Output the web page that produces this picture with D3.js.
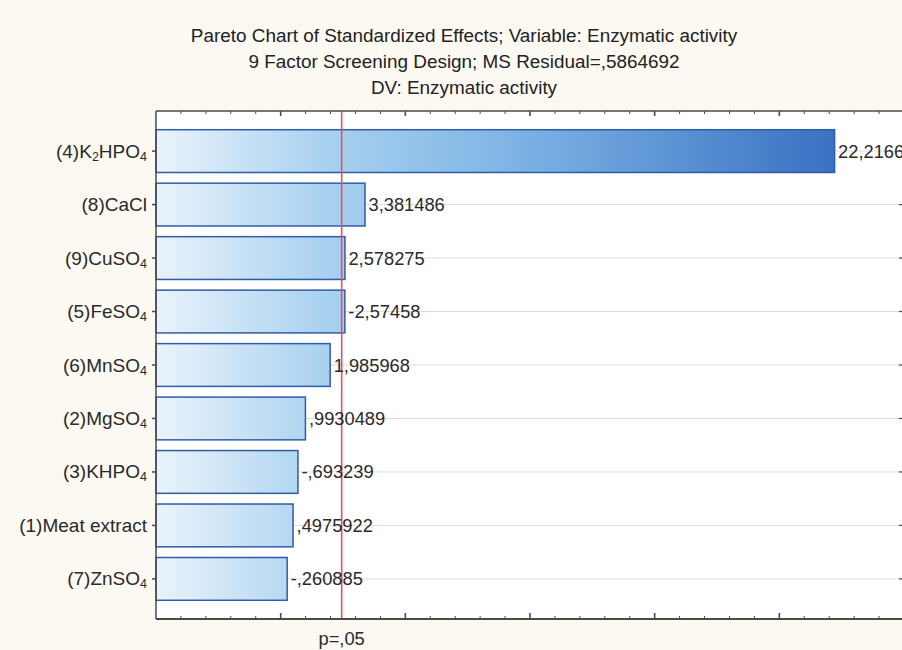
<!DOCTYPE html>
<html>
<head>
<meta charset="utf-8">
<script src="https://cdn.jsdelivr.net/npm/d3@7"></script>
<style>
  html, body { margin: 0; padding: 0; background: #fcf9f2; }
  svg { display: block; font-family: "Liberation Sans", Arial, sans-serif; }
</style>
</head>
<body>
<svg id="chart" width="902" height="650"></svg>
<script>
// ---- data -------------------------------------------------------------
const titleLines = [
  "Pareto Chart of Standardized Effects; Variable: Enzymatic activity",
  "9 Factor Screening Design; MS Residual=,5864692",
  "DV: Enzymatic activity"
];
const factors = [
  "(4)K2HPO4", "(8)CaCl", "(9)CuSO4", "(5)FeSO4", "(6)MnSO4",
  "(2)MgSO4", "(3)KHPO4", "(1)Meat extract", "(7)ZnSO4"
];
const effects = [
  22.21663, 3.381486, 2.578275, -2.57458, 1.985968,
  0.9930489, -0.693239, 0.4975922, -0.260885
];
const pCritical = 2.446912;     // two-sided t at p = .05, 6 df
const pLabel = "p=,05";
const xDomain = [-5, 25];
const minorStep = 1, majorStep = 5;

// ---- layout -----------------------------------------------------------
const plot = { left: 156, right: 904, top: 111, bottom: 619 };
const svg = d3.select("#chart");

const x = d3.scaleLinear().domain(xDomain).range([plot.left, plot.right]);
const y = d3.scaleBand().domain(factors).range([plot.top, plot.bottom])
  .paddingInner(0.2).paddingOuter(0.35);

// Statistica-style number text: comma decimal, no leading zero, 7 sig. digits
const fmt = v => {
  let s = String(parseFloat(Math.abs(v).toPrecision(7)));
  s = s.replace(/^0\./, ".").replace(".", ",");
  return (v < 0 ? "-" : "") + s;
};

// gradient across the value axis
const defs = svg.append("defs");
const grad = defs.append("linearGradient").attr("id", "barFill")
  .attr("gradientUnits", "userSpaceOnUse")
  .attr("x1", x(xDomain[0])).attr("x2", x(d3.max(effects, Math.abs)))
  .attr("y1", 0).attr("y2", 0);
[[0, "#eaf3fb"], [0.25, "#a9d1f0"], [0.55, "#7ab1e4"], [1, "#3a71c2"]]
  .forEach(([o, c]) => grad.append("stop").attr("offset", o).attr("stop-color", c));

// ---- title ------------------------------------------------------------
svg.append("g").selectAll("text").data(titleLines).join("text")
  .attr("x", 464).attr("y", (d, i) => 42 + i * 26)
  .attr("text-anchor", "middle").attr("font-size", 18.9).attr("fill", "#222")
  .text(d => d);

// ---- plot area ----------------------------------------------------------
svg.append("rect")
  .attr("x", plot.left).attr("y", plot.top)
  .attr("width", plot.right - plot.left).attr("height", plot.bottom - plot.top)
  .attr("fill", "#fff");

// horizontal grid at each factor
svg.append("g").selectAll("line").data(factors).join("line")
  .attr("x1", plot.left).attr("x2", plot.right)
  .attr("y1", d => y(d) + y.bandwidth() / 2).attr("y2", d => y(d) + y.bandwidth() / 2)
  .attr("stroke", "#dcdcdc").attr("stroke-width", 1);

// bars of absolute standardized effects
svg.append("g").selectAll("rect").data(effects).join("rect")
  .attr("x", x(xDomain[0]))
  .attr("y", (d, i) => y(factors[i]))
  .attr("width", d => x(Math.abs(d)) - x(xDomain[0]))
  .attr("height", y.bandwidth())
  .attr("fill", "url(#barFill)")
  .attr("stroke", "#2f5ca8").attr("stroke-width", 1.5);

// significance line
svg.append("line")
  .attr("x1", x(pCritical)).attr("x2", x(pCritical))
  .attr("y1", plot.top).attr("y2", plot.bottom)
  .attr("stroke", "#e4505e").attr("stroke-width", 1.6);

// value labels
svg.append("g").selectAll("text").data(effects).join("text")
  .attr("x", d => x(Math.abs(d)) + 3.5)
  .attr("y", (d, i) => y(factors[i]) + y.bandwidth() / 2 + 6.5)
  .attr("font-size", 18.3).attr("fill", "#2a2a2a")
  .text(d => fmt(d));

// ---- axes frame and ticks ---------------------------------------------------
const frame = svg.append("g").attr("stroke", "#4a4a4a").attr("fill", "none");
frame.append("line").attr("x1", plot.left).attr("x2", plot.right)
  .attr("y1", plot.top).attr("y2", plot.top).attr("stroke-width", 1.5);
frame.append("line").attr("x1", plot.left).attr("x2", plot.right)
  .attr("y1", plot.bottom).attr("y2", plot.bottom).attr("stroke-width", 2);
frame.append("line").attr("x1", plot.left).attr("x2", plot.left)
  .attr("y1", plot.top).attr("y2", plot.bottom).attr("stroke-width", 1.5);
frame.append("line").attr("x1", plot.right).attr("x2", plot.right)
  .attr("y1", plot.top).attr("y2", plot.bottom).attr("stroke-width", 1.5);

const tickVals = d3.range(xDomain[0] + minorStep, xDomain[1], minorStep);
const isMajor = v => Math.abs(v % majorStep) < 1e-9;
// top ticks point down, bottom ticks point up
frame.append("g").selectAll("line").data(tickVals).join("line")
  .attr("x1", d => x(d)).attr("x2", d => x(d))
  .attr("y1", plot.top).attr("y2", d => plot.top + (isMajor(d) ? 5 : 3))
  .attr("stroke-width", d => isMajor(d) ? 1.6 : 1);
frame.append("g").selectAll("line").data(tickVals).join("line")
  .attr("x1", d => x(d)).attr("x2", d => x(d))
  .attr("y1", plot.bottom).attr("y2", d => plot.bottom - (isMajor(d) ? 6 : 3))
  .attr("stroke-width", d => isMajor(d) ? 1.6 : 1);
// factor ticks on left (outward) and right (inward)
frame.append("g").selectAll("line").data(factors).join("line")
  .attr("x1", plot.left - 4).attr("x2", plot.left)
  .attr("y1", d => y(d) + y.bandwidth() / 2).attr("y2", d => y(d) + y.bandwidth() / 2)
  .attr("stroke-width", 1.5);
frame.append("g").selectAll("line").data(factors).join("line")
  .attr("x1", plot.right - 5).attr("x2", plot.right)
  .attr("y1", d => y(d) + y.bandwidth() / 2).attr("y2", d => y(d) + y.bandwidth() / 2)
  .attr("stroke-width", 1.2);

// ---- factor labels with chemical subscripts ---------------------------------
const labelG = svg.append("g");
factors.forEach(name => {
  const t = labelG.append("text")
    .attr("x", plot.left - 9)
    .attr("y", y(name) + y.bandwidth() / 2 + 6.5)
    .attr("text-anchor", "end").attr("font-size", 19).attr("fill", "#2a2a2a");
  // a digit that follows a letter is an atom count -> subscript
  const parts = name.match(/[A-Za-z]\d|[^A-Za-z]+|[A-Za-z]/g);
  let sub = false;
  parts.forEach(p => {
    if (/^[A-Za-z]\d$/.test(p)) {
      t.append("tspan").attr("dy", sub ? -3 : 0).text(p[0]);
      t.append("tspan").attr("dy", 3).attr("font-size", 12.5).text(p[1]);
      sub = true;
    } else {
      t.append("tspan").attr("dy", sub ? -3 : 0).text(p);
      sub = false;
    }
  });
});

// significance label under the axis
svg.append("text")
  .attr("x", x(pCritical)).attr("y", 645)
  .attr("text-anchor", "middle").attr("font-size", 18.3).attr("fill", "#2a2a2a")
  .text(pLabel);
</script>
</body>
</html>
